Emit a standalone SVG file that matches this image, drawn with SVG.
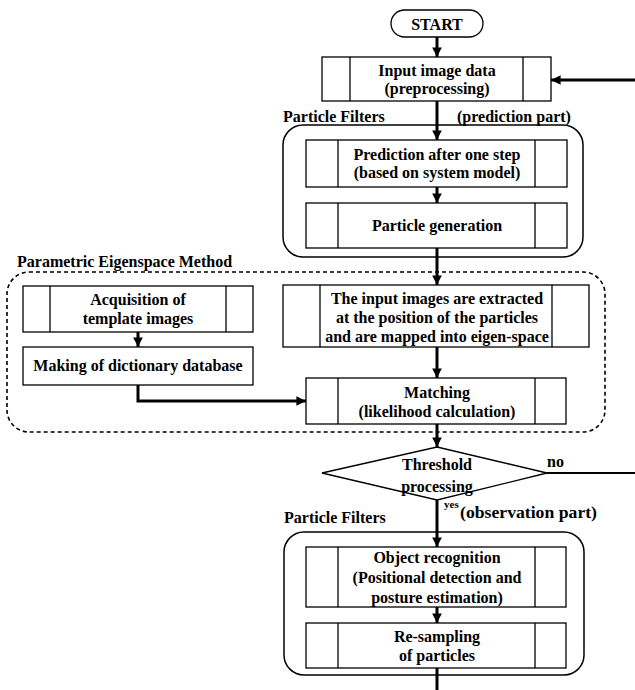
<svg xmlns="http://www.w3.org/2000/svg" width="635" height="690" viewBox="0 0 635 690">
<defs>
<marker id="ah" viewBox="0 0 10 10" refX="10" refY="5" markerWidth="3.2" markerHeight="3.2" orient="auto" markerUnits="strokeWidth">
<path d="M0,0 L10,5 L0,10 z" fill="#000"/>
</marker>
</defs>
<style>
text{font-family:"Liberation Serif","Times New Roman",serif;font-weight:bold;font-size:16px;fill:#000}
.c{text-anchor:middle}
.box{fill:#fff;stroke:#000;stroke-width:1.3}
.sep{stroke:#000;stroke-width:1.3}
.grp{fill:none;stroke:#000;stroke-width:1.5}
.dash{fill:none;stroke:#000;stroke-width:1.6;stroke-dasharray:4 3}
.ln{fill:none;stroke:#000;stroke-width:3}
.sm{font-size:11px}
</style>
<rect width="635" height="690" fill="#fff"/>

<g id="group-prediction">
<rect class="grp" x="283" y="125" width="300" height="132" rx="20"/>
<text x="283" y="122">Particle Filters</text>
<text x="457" y="122">(prediction part)</text>
</g>
<g id="group-eigenspace">
<rect class="dash" x="7" y="272" width="598" height="160" rx="22"/>
<text x="17" y="267">Parametric Eigenspace Method</text>
</g>
<g id="group-observation">
<rect class="grp" x="284" y="532" width="300" height="143" rx="20"/>
<text x="284" y="523">Particle Filters</text>
<text x="460" y="518" font-size="17" textLength="137" lengthAdjust="spacingAndGlyphs">(observation part)</text>
</g>

<g id="connectors">
<line class="ln" x1="437" y1="37" x2="437" y2="57" marker-end="url(#ah)"/>
<line class="ln" x1="635" y1="80" x2="551" y2="80" marker-end="url(#ah)"/>
<line class="ln" x1="437" y1="101" x2="437" y2="140" marker-end="url(#ah)"/>
<line class="ln" x1="437" y1="187" x2="437" y2="203" marker-end="url(#ah)"/>
<line class="ln" x1="437" y1="248" x2="437" y2="285" marker-end="url(#ah)"/>
<line class="ln" x1="437" y1="347" x2="437" y2="378" marker-end="url(#ah)"/>
<line class="ln" x1="138" y1="332" x2="138" y2="347" marker-end="url(#ah)"/>
<polyline class="ln" points="138,385 138,401 306,401" marker-end="url(#ah)"/>
<line class="ln" x1="437" y1="424" x2="437" y2="447" marker-end="url(#ah)"/>
<line class="ln" x1="437" y1="500" x2="437" y2="547" marker-end="url(#ah)"/>
<line x1="547" y1="473" x2="635" y2="473" stroke="#000" stroke-width="2"/>
<line class="ln" x1="437" y1="607" x2="437" y2="623" marker-end="url(#ah)"/>
<line class="ln" x1="437" y1="668" x2="437" y2="690"/>
<text x="547" y="467">no</text>
<text class="sm" x="444" y="508">yes</text>
</g>

<g id="start">
<rect class="box" x="391" y="10" width="92" height="27" rx="13.5"/>
<text class="c" x="437" y="30">START</text>
</g>
<g id="input">
<rect class="box" x="322" y="57" width="229" height="44"/>
<line class="sep" x1="350" y1="57" x2="350" y2="101"/>
<line class="sep" x1="523" y1="57" x2="523" y2="101"/>
<text class="c" x="437" y="76">Input image data</text>
<text class="c" x="437" y="94">(preprocessing)</text>
</g>
<g id="prediction">
<rect class="box" x="306" y="140" width="261" height="47"/>
<line class="sep" x1="338" y1="140" x2="338" y2="187"/>
<line class="sep" x1="535" y1="140" x2="535" y2="187"/>
<text class="c" x="437" y="160">Prediction after one step</text>
<text class="c" x="437" y="178">(based on system model)</text>
</g>
<g id="generation">
<rect class="box" x="306" y="203" width="261" height="45"/>
<line class="sep" x1="338" y1="203" x2="338" y2="248"/>
<line class="sep" x1="535" y1="203" x2="535" y2="248"/>
<text class="c" x="437" y="231">Particle generation</text>
</g>
<g id="acquisition">
<rect class="box" x="23" y="286" width="230" height="46"/>
<line class="sep" x1="50" y1="286" x2="50" y2="332"/>
<line class="sep" x1="226" y1="286" x2="226" y2="332"/>
<text class="c" x="138" y="305">Acquisition of</text>
<text class="c" x="138" y="324">template images</text>
</g>
<g id="dictionary">
<rect class="box" x="23" y="347" width="230" height="38"/>
<text class="c" x="138" y="371">Making of dictionary database</text>
</g>
<g id="extract">
<rect class="box" x="283" y="285" width="306" height="62"/>
<line class="sep" x1="320" y1="285" x2="320" y2="347"/>
<line class="sep" x1="552" y1="285" x2="552" y2="347"/>
<text class="c" x="437" y="304">The input images are extracted</text>
<text class="c" x="437" y="323">at the position of the particles</text>
<text class="c" x="437" y="342">and are mapped into eigen-space</text>
</g>
<g id="matching">
<rect class="box" x="306" y="378" width="260" height="46"/>
<line class="sep" x1="338" y1="378" x2="338" y2="424"/>
<line class="sep" x1="535" y1="378" x2="535" y2="424"/>
<text class="c" x="437" y="398">Matching</text>
<text class="c" x="437" y="417">(likelihood calculation)</text>
</g>
<g id="threshold">
<polygon class="box" points="437,447 547,473 437,500 322,473"/>
<text class="c" x="437" y="470">Threshold</text>
<text class="c" x="437" y="492">processing</text>
</g>
<g id="recognition">
<rect class="box" x="306" y="547" width="260" height="60"/>
<line class="sep" x1="338" y1="547" x2="338" y2="607"/>
<line class="sep" x1="535" y1="547" x2="535" y2="607"/>
<text class="c" x="437" y="563">Object recognition</text>
<text class="c" x="437" y="583">(Positional detection and</text>
<text class="c" x="437" y="603">posture estimation)</text>
</g>
<g id="resampling">
<rect class="box" x="306" y="623" width="260" height="45"/>
<line class="sep" x1="338" y1="623" x2="338" y2="668"/>
<line class="sep" x1="535" y1="623" x2="535" y2="668"/>
<text class="c" x="437" y="642">Re-sampling</text>
<text class="c" x="437" y="661">of particles</text>
</g>
</svg>
